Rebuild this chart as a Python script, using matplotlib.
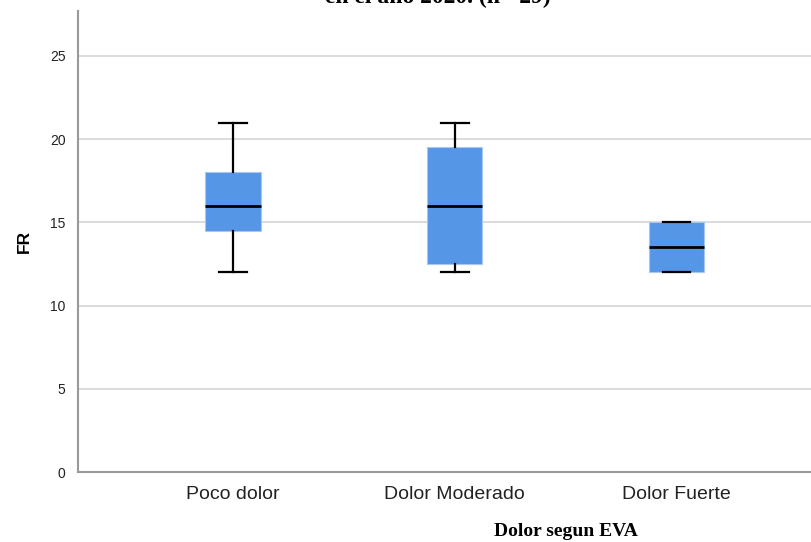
import numpy as np
import matplotlib
matplotlib.use("Agg")
import matplotlib.pyplot as plt

# box statistics (FR by pain group)
groups = ["Poco dolor", "Dolor Moderado", "Dolor Fuerte"]
whislo = [12, 12, 12]
q1 = [14.5, 12.5, 12]
med = [16, 16, 13.5]
q3 = [18, 19.5, 15]
whishi = [21, 21, 15]
yticks = [0, 5, 10, 15, 20, 25]

plt.rcParams['font.family'] = ['Liberation Sans', 'DejaVu Sans']

fig = plt.figure(figsize=(8.12, 5.42), dpi=100)
ax = fig.add_axes([78 / 812, 70 / 542, 1.0, 461 / 542])

stats = []
for i in range(len(groups)):
    stats.append({"label": groups[i], "whislo": whislo[i], "q1": q1[i], "med": med[i],
                  "q3": q3[i], "whishi": whishi[i], "fliers": []})

pos = np.arange(1, len(groups) + 1)
ax.bxp(stats, positions=pos, widths=0.25, capwidths=0.125, patch_artist=True,
       showfliers=False,
       boxprops=dict(facecolor="#5596e6", edgecolor="#a9c8f0", linewidth=0.8),
       medianprops=dict(color="black", linewidth=2),
       whiskerprops=dict(color="black", linewidth=1.6),
       capprops=dict(color="black", linewidth=1.6))

ax.set_xlim(0.302, 0.302 + 3.66)
ax.set_ylim(0, 27.7)
ax.set_yticks(yticks)
ax.set_yticklabels([str(t) for t in yticks], fontsize=10, color="#222222")
ax.set_xticks(pos)
ax.set_xticklabels(groups, fontsize=14, color="#222222")
ax.tick_params(axis="y", length=0, pad=9)
ax.tick_params(axis="x", length=0, pad=10)
ax.yaxis.grid(True, color="#d4d4d4", linewidth=1.2)
ax.set_axisbelow(True)
for s in ["top", "right"]:
    ax.spines[s].set_visible(False)
for s in ["left", "bottom"]:
    ax.spines[s].set_color("#999999")
    ax.spines[s].set_linewidth(1.5)

ax.set_ylabel("FR", fontsize=12.5, fontweight="bold", labelpad=13)

fig.text(566 / 812, 1 - 531 / 542, "Dolor segun EVA", fontsize=14, fontweight="bold",
         family=["Liberation Serif", "DejaVu Serif"], ha="center", va="center")
fig.text(438 / 812, 1 - 3 / 542, "en el año 2020. (n= 29)", fontsize=17, fontweight="bold",
         family=["Liberation Serif", "DejaVu Serif"], ha="center", va="baseline")

fig.savefig("out.png", dpi=100)
